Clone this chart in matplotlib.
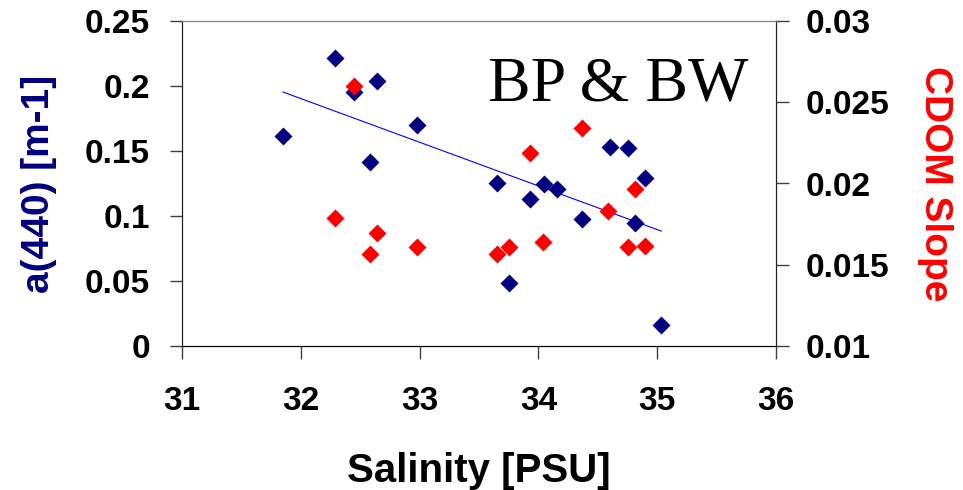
import numpy as np
import matplotlib
matplotlib.use('Agg')
from matplotlib import pyplot as plt

# a(440) vs salinity (left axis)
salinityA = [31.85, 32.29, 32.445, 32.58, 32.64, 32.98, 33.65, 33.75, 33.93,
             34.05, 34.16, 34.37, 34.60, 34.75, 34.81, 34.895, 35.035]
a440 = [0.1615, 0.2213, 0.1956, 0.1418, 0.204, 0.170, 0.1256, 0.0482, 0.1128,
        0.1246, 0.1205, 0.098, 0.1528, 0.152, 0.0944, 0.1295, 0.0159]

# CDOM slope vs salinity (right axis)
salinityS = [32.29, 32.445, 32.58, 32.64, 32.98, 33.65, 33.75, 33.93, 34.04,
             34.37, 34.59, 34.75, 34.81, 34.895]
cdomSlope = [0.01786, 0.0260, 0.01564, 0.01693, 0.01607, 0.01566, 0.01607, 0.0219,
             0.01638, 0.02343, 0.01833, 0.01607, 0.01964, 0.01615]

xTicks = [31, 32, 33, 34, 35, 36]
leftTicks = [0, 0.05, 0.1, 0.15, 0.2, 0.25]
leftTickLabels = ['0', '0.05', '0.1', '0.15', '0.2', '0.25']
rightTicks = [0.01, 0.015, 0.02, 0.025, 0.03]
rightTickLabels = ['0.01', '0.015', '0.02', '0.025', '0.03']

navy = '#000080'
red = '#FF0000'
font = 'Liberation Sans'

fig = plt.figure(figsize=(9.63, 4.9), dpi=100)
ax = fig.add_axes([182/963, 1 - 346/490, (776 - 182)/963, (346 - 21)/490])

ax.plot(salinityA, a440, linestyle='none', marker='D', ms=9, color=navy, mec='none', zorder=3)

# linear trend line for a(440)
coef = np.polyfit(salinityA, a440, 1)
xs = np.array([min(salinityA), max(salinityA)])
ax.plot(xs, np.polyval(coef, xs), color='#0000FF', lw=0.8, zorder=2)

ax.set_xlim(31, 36)
ax.set_ylim(0, 0.25)
ax.set_xticks(xTicks)
ax.set_xticklabels([str(t) for t in xTicks])
ax.set_yticks(leftTicks)
ax.set_yticklabels(leftTickLabels)

ax2 = ax.twinx()
ax2.plot(salinityS, cdomSlope, linestyle='none', marker='D', ms=9, color=red, mec='none', zorder=3)
ax2.set_ylim(0.01, 0.03)
ax2.set_yticks(rightTicks)
ax2.set_yticklabels(rightTickLabels)

for a in (ax, ax2):
    a.tick_params(direction='out', length=9, width=1, color='#404040')
    for label in a.get_xticklabels() + a.get_yticklabels():
        label.set_fontfamily(font)
        label.set_fontweight('bold')
        label.set_fontsize(24)
    a.spines['top'].set_color('#808080')
    a.spines['left'].set_color('#202020')
    a.spines['right'].set_color('#202020')
    a.spines['bottom'].set_color('#000000')

ax.tick_params(axis='y', pad=14)
ax.tick_params(axis='x', pad=20)
ax2.tick_params(axis='y', pad=12)

ax.set_xlabel('Salinity [PSU]', fontfamily=font, fontweight='bold', fontsize=29, labelpad=25)
ax.set_ylabel('a(440) [m-1]', fontfamily=font, fontweight='bold', fontsize=28, color=navy, labelpad=20)
ax2.set_ylabel('CDOM Slope', fontfamily=font, fontweight='bold', fontsize=28, color=red,
               rotation=270, labelpad=46)

ax.text(0.515, 0.755, 'BP & BW', transform=ax.transAxes, fontfamily='Liberation Serif',
        fontsize=46, color='black', ha='left', va='baseline')

plt.savefig('out.png', dpi=100)
